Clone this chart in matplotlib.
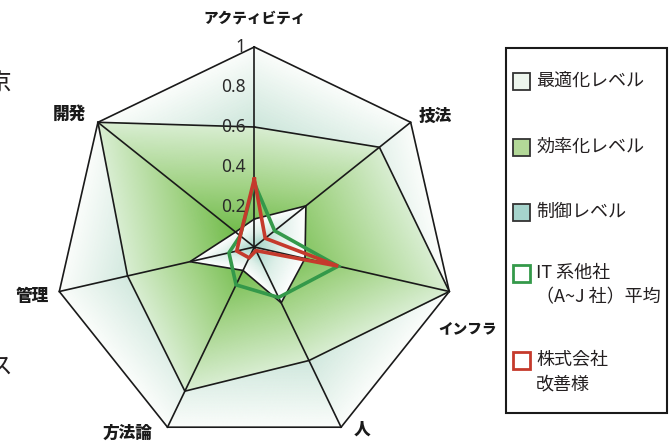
import numpy as np
import matplotlib
matplotlib.use('Agg')
import matplotlib.pyplot as plt
from matplotlib.colors import LinearSegmentedColormap
from matplotlib.patches import Rectangle

plt.rcParams['font.family'] = ['Noto Sans CJK JP', 'DejaVu Sans']

# ---------------- data ----------------
categories = ['アクティビティ', '技法', 'インフラ', '人', '方法論', '管理', '開発']
tick_values = [0.2, 0.4, 0.6, 0.8, 1.0]
tick_labels = ['0.2', '0.4', '0.6', '0.8', '1']

optimized = [1.0, 1.0, 1.0, 1.0, 1.0, 1.0, 1.0]          # 最適化レベル
efficiency = [0.6, 0.8, 1.0, 0.63, 0.8, 0.65, 1.0]       # 効率化レベル
control = [0.14, 0.33, 0.26, 0.31, 0.13, 0.33, 0.12]     # 制御レベル
it_average = [0.32, 0.13, 0.43, 0.28, 0.21, 0.13, 0.09]  # IT 系他社平均
client = [0.34, 0.07, 0.43, 0.02, 0.06, 0.09, 0.09]      # 株式会社改善様

legend_labels = ['最適化レベル', '効率化レベル', '制御レベル',
                 ['IT 系他社', '（A~J 社）平均'], ['株式会社', '改善様']]

# ---------------- figure ----------------
W, H = 672, 443
fig = plt.figure(figsize=(W / 100, H / 100), dpi=100)
cx, cy, R = 254.3, 247.0, 200.0
ax = fig.add_axes([(cx - R) / W, (H - cy - R) / H, 2 * R / W, 2 * R / H],
                  projection='polar')
ax.set_theta_zero_location('N')
ax.set_theta_direction(-1)
ax.set_ylim(0, 1)
ax.set_axis_off()

n = len(categories)
angles = np.linspace(0, 2 * np.pi, n, endpoint=False)


def closed(v):
    v = np.asarray(v, dtype=float)
    return np.append(v, v[0])


ang_c = closed(angles)


def edge_radius(values, theta):
    v = np.asarray(values, dtype=float)
    step = 2 * np.pi / len(v)
    idx = np.floor(theta / step).astype(int) % len(v)
    a1 = idx * step
    a2 = a1 + step
    r1 = v[idx]
    r2 = v[(idx + 1) % len(v)]
    return r1 * r2 * np.sin(step) / (r1 * np.sin(theta - a1) + r2 * np.sin(a2 - theta))


th = np.linspace(0, 2 * np.pi, 1441)
rr = np.linspace(0, 1.0, 301)
TH, RR = np.meshgrid(th, rr)


def gradient_fill(values, colors, z):
    rb = edge_radius(values, TH)
    t = np.clip(RR / rb, 0, 1)
    cmap = LinearSegmentedColormap.from_list('grad', colors)
    poly = ax.fill(ang_c, closed(values), facecolor='none', edgecolor='none',
                   zorder=z)[0]
    mesh = ax.pcolormesh(TH, RR, t, cmap=cmap, vmin=0, vmax=1,
                         shading='gouraud', zorder=z, rasterized=True)
    mesh.set_clip_path(poly)
    ax.plot(ang_c, closed(values), color='#1a1a1a', lw=1.2, zorder=z + 0.5,
            clip_on=False, solid_joinstyle='miter')


gradient_fill(optimized, [(0.0, '#9fd0bd'), (0.6, '#cde6db'), (1.0, '#fbfdfb')], 1)
gradient_fill(efficiency, [(0.0, '#63b53a'), (0.5, '#a2d385'), (1.0, '#d9eed2')], 2)
gradient_fill(control, [(0.0, '#a3d4c8'), (0.5, '#def0e9'), (1.0, '#ffffff')], 3)

# spokes
for a in angles:
    ax.plot([a, a], [0, 1], color='#1a1a1a', lw=1.2, zorder=5, clip_on=False)

# data lines
ax.plot(ang_c, closed(it_average), color='#34994a', lw=2.6, zorder=6,
        solid_joinstyle='miter')
ax.plot(ang_c, closed(client), color='#c53a2c', lw=2.6, zorder=7,
        solid_joinstyle='miter')

# radial tick labels
for v, lab in zip(tick_values, tick_labels):
    ax.annotate(lab, xy=(0, v), xytext=(-9, 0), textcoords='offset pixels',
                ha='right', va='center', fontsize=12.5, color='#2a2a2a',
                family=['Noto Sans', 'DejaVu Sans'], zorder=8,
                annotation_clip=False)

# category labels
offsets = [(0, 29), (25, 6), (18, -37), (21, -2), (-40, -6), (-27, -4), (-29, 8)]
sizes = [10.5, 12, 10.5, 12, 12, 12, 12]
for a, lab, off, fs in zip(angles, categories, offsets, sizes):
    ax.annotate(lab, xy=(a, 1.0), xytext=off, textcoords='offset pixels',
                ha='center', va='center', fontsize=fs, fontweight='heavy',
                color='#1a1a1a', annotation_clip=False)

# cut-off texts at the left edge (cut in the reference as well)
fig.text(12 / W, 1 - 83 / H, '京', ha='right', va='center', fontsize=17,
         color='#231f20')
fig.text(12 / W, 1 - 367 / H, 'ス', ha='right', va='center', fontsize=17,
         color='#231f20')

# ---------------- legend ----------------
fig.patches.append(Rectangle((506 / W, 1 - 413 / H), 161 / W, 365 / H,
                             transform=fig.transFigure, facecolor='white',
                             edgecolor='#1a1a1a', lw=1.5))
faces = ['#eef6ee', '#b3d898', '#a6d4cc', 'white', 'white']
edges = ['#333333', '#333333', '#333333', '#34994a', '#c53a2c']
lws = [1.3, 1.3, 1.3, 2.0, 2.0]
ys = [81, 147, 212, 273, 360]
sq = 17
for lab, fc, ec, lw, y in zip(legend_labels, faces, edges, lws, ys):
    fig.patches.append(Rectangle((513 / W, 1 - (y + sq / 2) / H), sq / W, sq / H,
                                 transform=fig.transFigure, facecolor=fc,
                                 edgecolor=ec, lw=lw))
    lines = lab if isinstance(lab, list) else [lab]
    for k, line in enumerate(lines):
        fig.text(536 / W, 1 - (y + 24 * k) / H, line, ha='left', va='center',
                 fontsize=13, color='#231f20')

fig.savefig('out.png', dpi=100)
